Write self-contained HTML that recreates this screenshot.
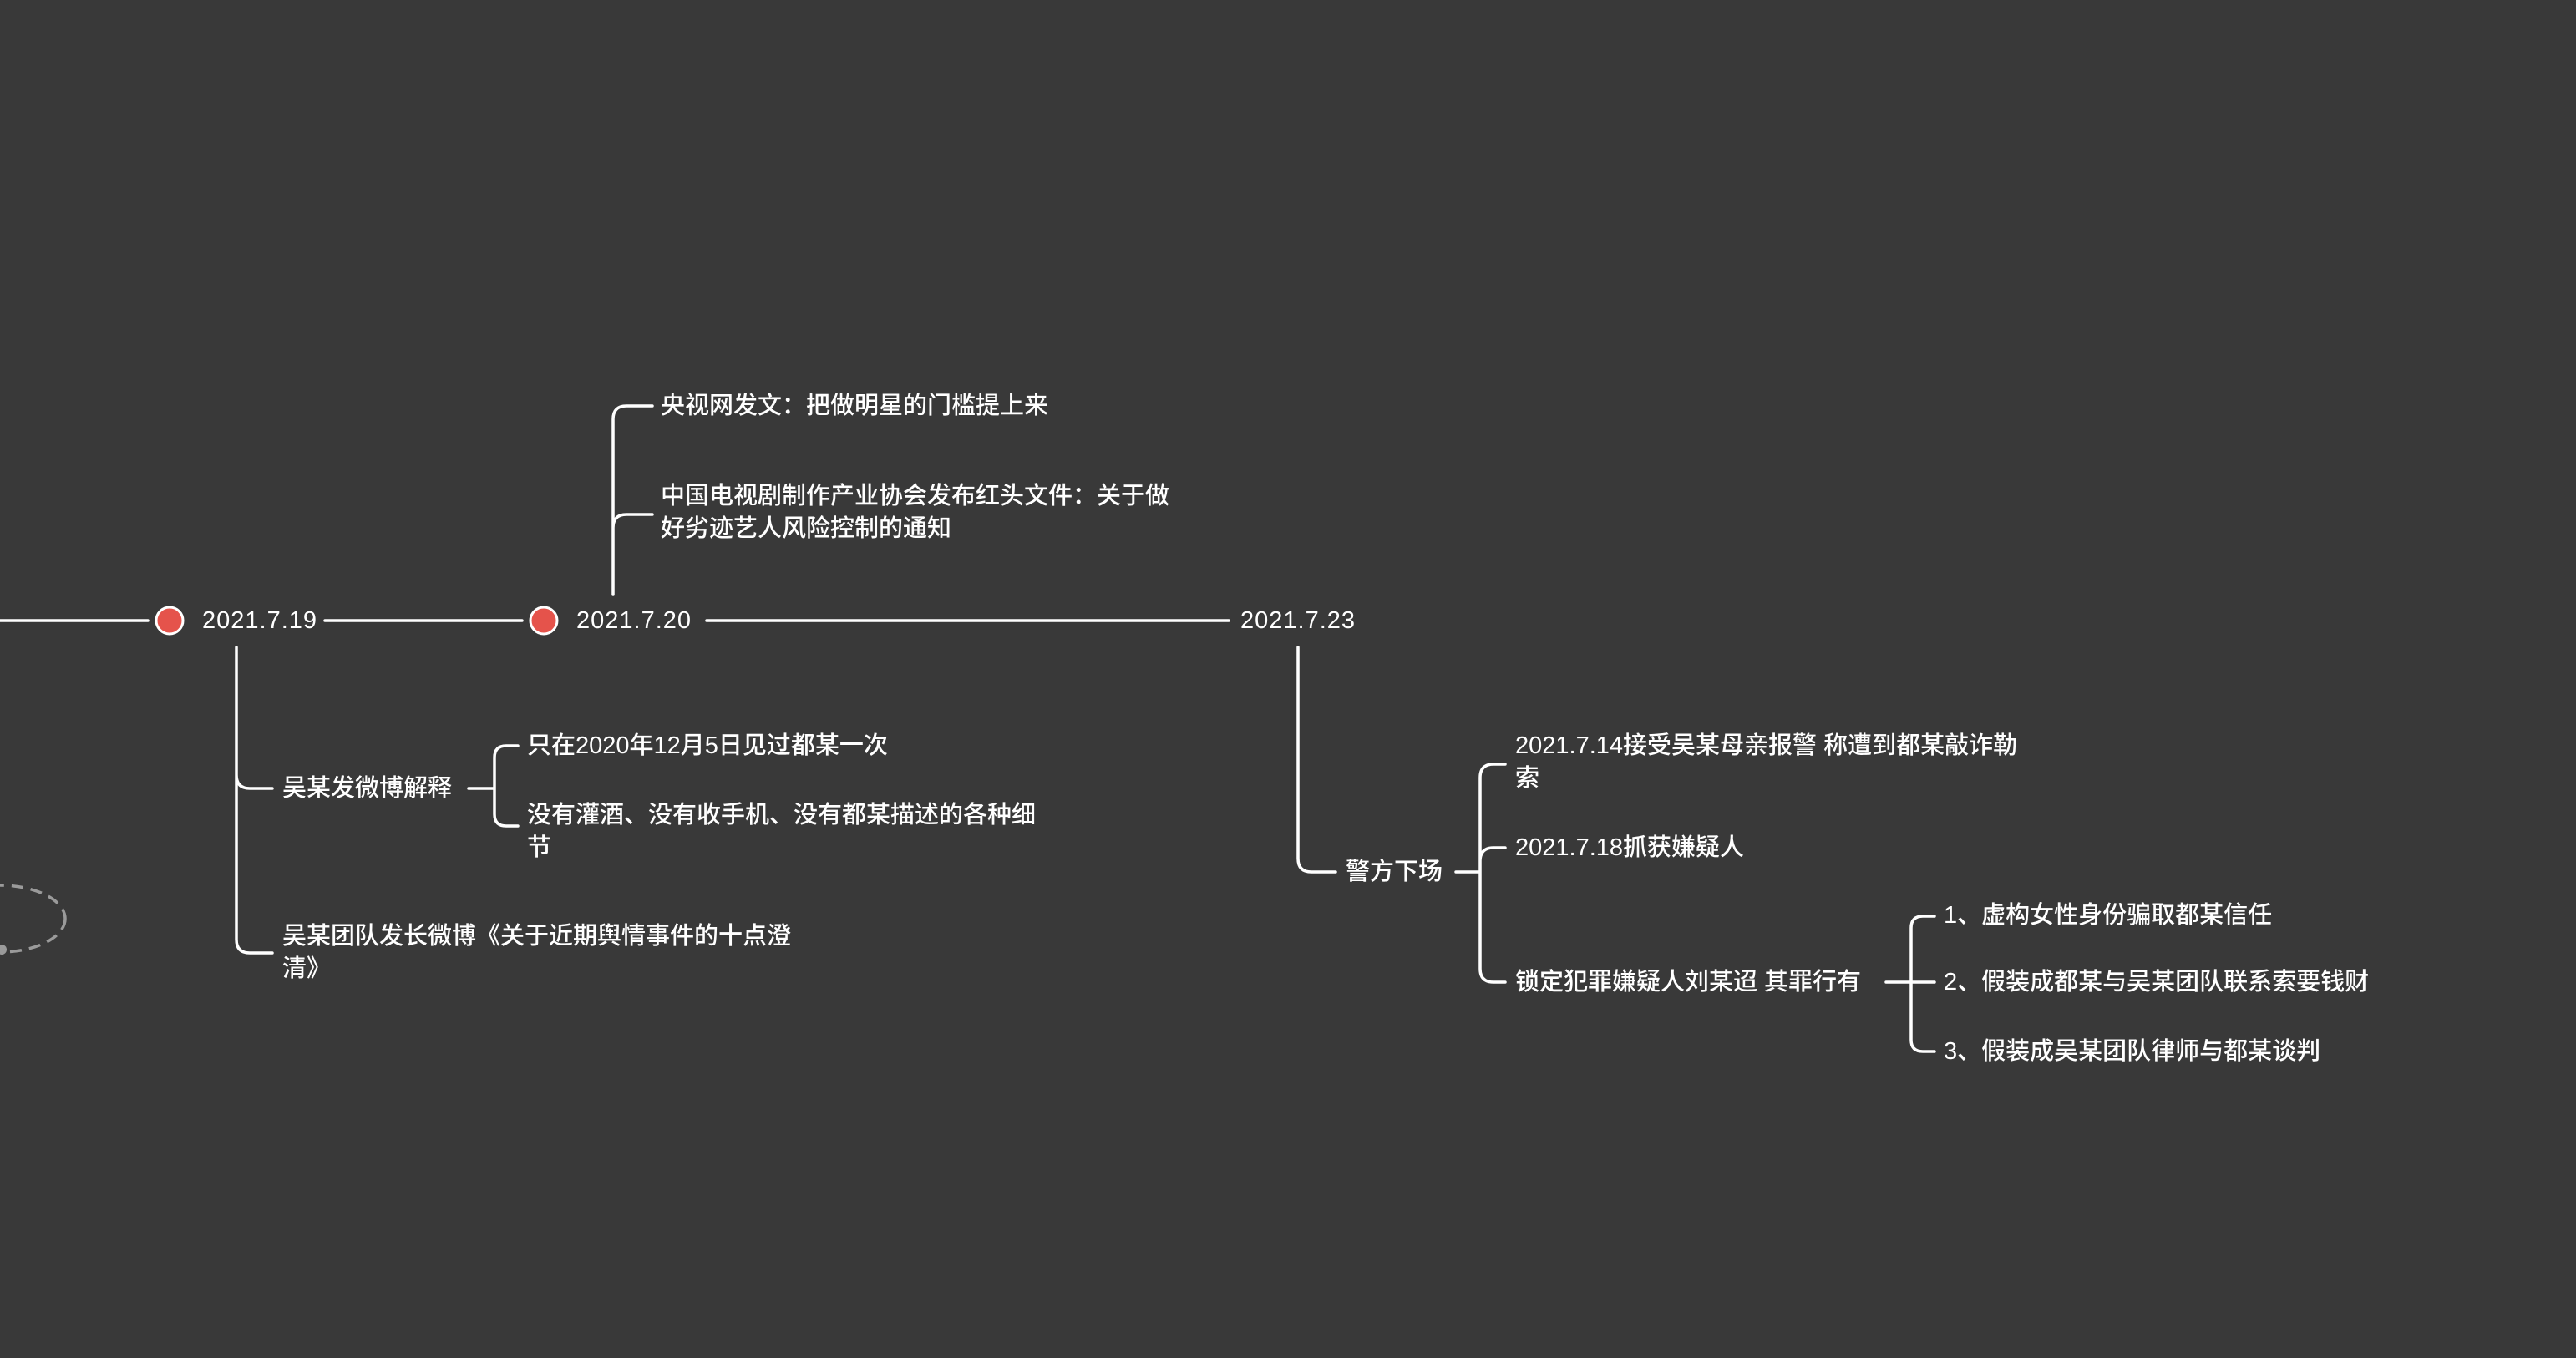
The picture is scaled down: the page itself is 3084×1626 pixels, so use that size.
<!DOCTYPE html>
<html><head><meta charset="utf-8"><style>
html,body{margin:0;padding:0;background:#393939;}
svg{display:block}
text{font-family:"Liberation Sans","Noto Sans CJK SC",sans-serif;font-size:29px;fill:#fff;dominant-baseline:central;font-weight:500}
.d{letter-spacing:1px}
.l{stroke:#fff;stroke-width:3.5;fill:none;stroke-linecap:round}
</style></head><body>
<svg width="3084" height="1626" viewBox="0 0 3084 1626">
<rect width="3084" height="1626" fill="#393939"/>
<ellipse cx="0" cy="1100" rx="78" ry="40" fill="none" stroke="#9a9a9a" stroke-width="3.5" stroke-dasharray="14 9"/>
<circle cx="2" cy="1137" r="6" fill="#9a9a9a"/>
<path class="l" d="M0 743H177M389 743H625M846 743H1471"/>
<circle cx="203" cy="743" r="16" fill="#e5534b" stroke="#fff" stroke-width="3"/>
<circle cx="651" cy="743" r="16" fill="#e5534b" stroke="#fff" stroke-width="3"/>
<text class="d" x="242" y="743">2021.7.19</text>
<text class="d" x="690" y="743">2021.7.20</text>
<text class="d" x="1485" y="743">2021.7.23</text>
<path class="l" d="M734 712V502Q734 486 750 486H781M734 632Q734 616 750 616H781"/>
<text x="791" y="486">央视网发文：把做明星的门槛提上来</text>
<text x="791" y="594">中国电视剧制作产业协会发布红头文件：关于做</text>
<text x="791" y="633">好劣迹艺人风险控制的通知</text>
<path class="l" d="M283 775V1125Q283 1141 299 1141H326M283 928Q283 944 299 944H326"/>
<text x="338" y="944">吴某发微博解释</text>
<text x="338" y="1121">吴某团队发长微博《关于近期舆情事件的十点澄</text>
<text x="338" y="1160">清》</text>
<path class="l" d="M561 944H592M620 893H606Q592 893 592 907V975Q592 989 606 989H620"/>
<text x="631" y="893">只在2020年12月5日见过都某一次</text>
<text x="631" y="976">没有灌酒、没有收手机、没有都某描述的各种细</text>
<text x="631" y="1015">节</text>
<path class="l" d="M1554 775V1028Q1554 1044 1570 1044H1599"/>
<text x="1611" y="1044">警方下场</text>
<path class="l" d="M1743 1044H1772M1802 915H1788Q1772 915 1772 931V1160Q1772 1176 1788 1176H1802M1772 1031Q1772 1015 1788 1015H1802"/>
<text x="1814" y="893">2021.7.14接受吴某母亲报警 称遭到都某敲诈勒</text>
<text x="1814" y="932">索</text>
<text x="1814" y="1015">2021.7.18抓获嫌疑人</text>
<text x="1814" y="1176">锁定犯罪嫌疑人刘某迢 其罪行有</text>
<path class="l" d="M2258 1176H2316M2316 1097H2302Q2288 1097 2288 1111V1245Q2288 1259 2302 1259H2316"/>
<text x="2327" y="1096">1、虚构女性身份骗取都某信任</text>
<text x="2327" y="1176">2、假装成都某与吴某团队联系索要钱财</text>
<text x="2327" y="1259">3、假装成吴某团队律师与都某谈判</text>
</svg>
</body></html>
